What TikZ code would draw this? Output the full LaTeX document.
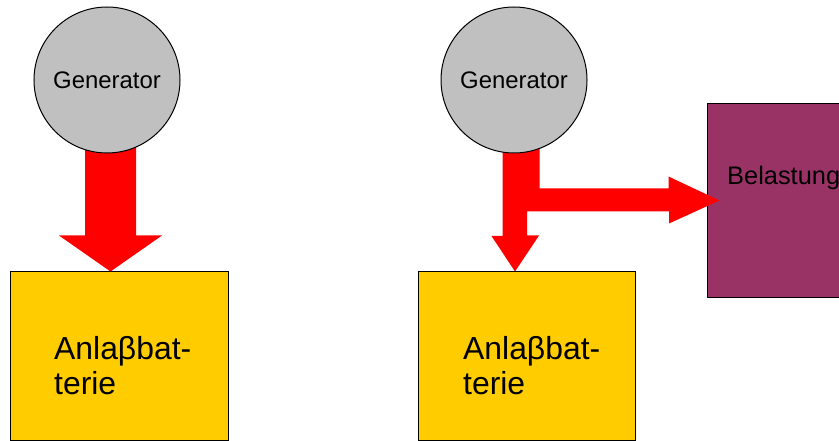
\documentclass[tikz,border=0pt]{standalone}
\usepackage{fontspec}
\setmainfont{Liberation Sans}
\usetikzlibrary{positioning,calc}
\definecolor{gengray}{HTML}{C0C0C0}
\definecolor{batyellow}{HTML}{FFCC00}
\definecolor{loadpurple}{HTML}{993366}
\begin{document}
\begin{tikzpicture}[x=1bp, y=-1bp,
    gen/.style = {circle, draw, fill=gengray, line width=1bp, minimum size=146bp,
                  inner sep=0pt, font={\fontsize{24}{27}\selectfont}},
    bat/.style = {rectangle, draw, fill=batyellow, line width=1bp,
                  minimum width=217bp, minimum height=168bp},
    battext/.style = {align=left, inner sep=0pt, font={\fontsize{32}{35}\selectfont}},
    load/.style = {rectangle, draw, fill=loadpurple, line width=1bp,
                   minimum width=170bp, minimum height=193bp},
    flow/.style = {fill=red}]
    \clip (0,0) rectangle (839,441);
    % left: generator charges the battery only
    \node[bat] (batL) at (119.5,356) {};
    \node[battext, anchor=north west] (txtL) at (54,336.5) {Anlaβbat-\\terie};
    % right: battery and load
    \node[bat] (batR) at (527,356) {};
    \node[battext, anchor=north west] (txtR) at (463,336.5) {Anlaβbat-\\terie};
    \node[load] (load) at (792,200.5) {};
    \node[anchor=base west, inner sep=0pt, font={\fontsize{25.5}{29}\selectfont}]
        (loadtxt) at (727,185) {Belastung};
    % power flow
    \fill[flow] ($(batL.north)+(-9,0)$) -- ++(51.5,-36) -- ++(-26,0) -- ++(0,-156)
        -- ++(-51,0) -- ++(0,156) -- ++(-26,0) -- cycle;
    \fill[flow] ($(batR.north)+(-12,0)$) -- ++(24,-36) -- ++(-12,0) -- ++(0,-24)
        -- ++(142,0) -- ++(0,12) -- ($(load.west)+(13,0)$) -- ++(-51,-24)
        -- ++(0,12) -- ++(-129,0) -- ++(0,-108) -- ++(-37,0) -- ++(0,155.5)
        -- ++(-11,0) -- cycle;
    % generators on top
    \node[gen] (genL) at (107,80) {Generator};
    \node[gen] (genR) at (514,80) {Generator};
\end{tikzpicture}
\end{document}
